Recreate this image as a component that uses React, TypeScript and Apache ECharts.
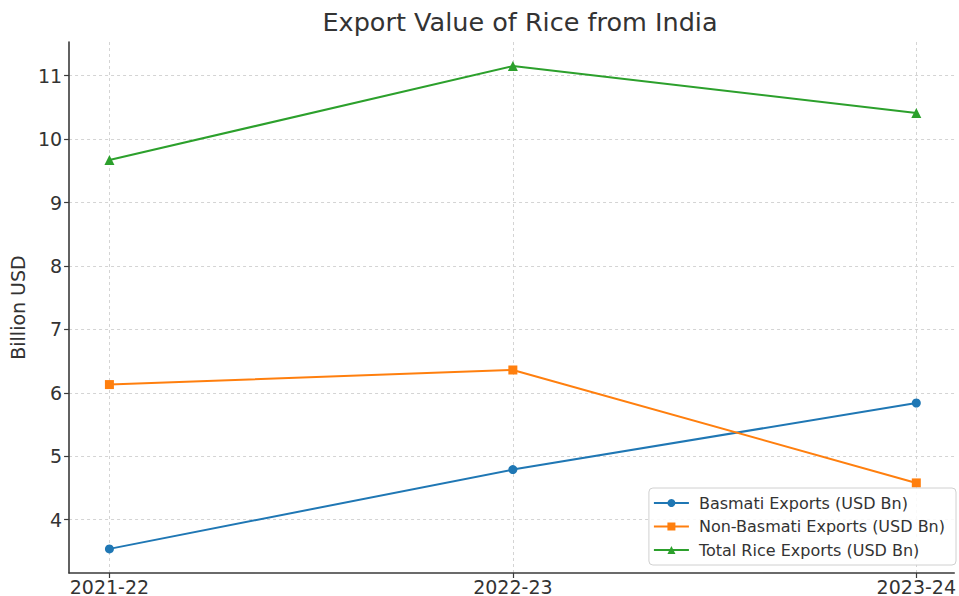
import React, { useEffect, useRef } from 'react';
import * as echarts from 'echarts';

const categories = ['2021-22', '2022-23', '2023-24'];
const basmati = [3.54, 4.79, 5.84];
const nonBasmati = [6.13, 6.36, 4.58];
const total = [9.67, 11.15, 10.41];
const yTicks = [4, 5, 6, 7, 8, 9, 10, 11];
const xTicks = [0, 1, 2];
const seriesNames = [
  'Basmati Exports (USD Bn)',
  'Non-Basmati Exports (USD Bn)',
  'Total Rice Exports (USD Bn)',
];
const colors = ['#1f77b4', '#ff7f0e', '#2ca02c'];
const symbols = ['circle', 'rect', 'triangle'];

const FONT = 'DejaVu Sans';

export default function App() {
  const ref = useRef<HTMLDivElement>(null);
  useEffect(() => {
    if (!ref.current) return;
    const chart = echarts.init(ref.current, null, { renderer: 'svg' });
    const all = [basmati, nonBasmati, total];
    const gridLine = { show: true, lineStyle: { color: '#d4d4d4', type: [3, 3], width: 1 } };
    chart.setOption({
      animation: false,
      backgroundColor: '#ffffff',
      title: {
        text: 'Export Value of Rice from India',
        left: 515,
        textAlign: 'center',
        top: 4,
        textStyle: { fontFamily: FONT, fontSize: 25.5, fontWeight: 'normal', color: '#333' },
      },
      grid: { left: 69, top: 42, right: 0, height: 531, containLabel: false },
      xAxis: {
        type: 'value',
        min: -0.1,
        max: 2.094,
        axisLine: { show: true, onZero: false, lineStyle: { color: '#3a3a3a', width: 1.6 } },
        axisTick: { show: true, customValues: xTicks, length: 5, lineStyle: { color: '#3a3a3a', width: 1.2 } },
        axisLabel: {
          customValues: xTicks,
          formatter: (v: number) => categories[Math.round(v)] ?? '',
          fontFamily: FONT,
          fontSize: 19,
          color: '#333',
          margin: 4,
        },
        splitLine: gridLine,
      },
      yAxis: {
        type: 'value',
        min: 3.16,
        max: 11.53,
        name: 'Billion USD',
        nameLocation: 'middle',
        nameGap: 38,
        nameTextStyle: { fontFamily: FONT, fontSize: 19, color: '#333' },
        axisLine: { show: true, onZero: false, lineStyle: { color: '#3a3a3a', width: 1.6 } },
        axisTick: { show: true, customValues: yTicks, length: 5, lineStyle: { color: '#3a3a3a', width: 1.2 } },
        axisLabel: {
          customValues: yTicks,
          fontFamily: FONT,
          fontSize: 19,
          color: '#333',
          margin: 7,
        },
        splitLine: gridLine,
      },
      legend: {
        orient: 'vertical',
        right: 3,
        bottom: 31,
        padding: [6.5, 11, 6.5, 4],
        itemWidth: 35,
        itemHeight: 10,
        itemGap: 6.5,
        backgroundColor: 'rgba(255,255,255,0.85)',
        borderColor: '#d0d0d0',
        borderWidth: 1,
        borderRadius: 4,
        textStyle: { fontFamily: FONT, fontSize: 16, color: '#333', lineHeight: 17, padding: [0, 0, 0, 5] },
        data: seriesNames,
      },
      series: all.map((vals, i) => ({
        name: seriesNames[i],
        type: 'line',
        data: vals.map((v, j) => [j, v]),
        symbol: symbols[i],
        symbolSize: i === 2 ? 10 : 9,
        itemStyle: { color: colors[i] },
        lineStyle: { color: colors[i], width: 2 },
        z: 3,
      })),
    });
    return () => chart.dispose();
  }, []);
  return <div ref={ref} style={{ width: 959, height: 596, position: 'absolute', left: 0, top: 0 }} />;
}
